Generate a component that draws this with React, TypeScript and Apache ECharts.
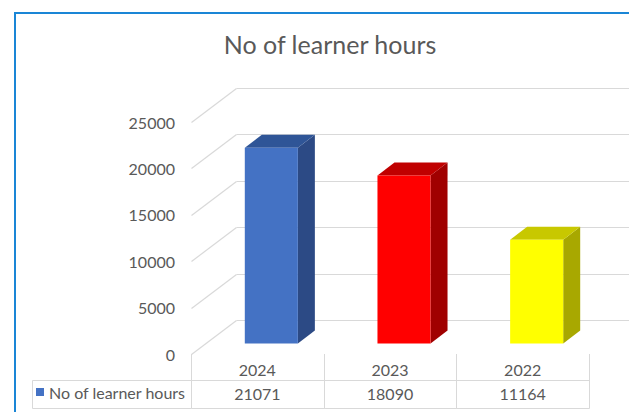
import React, { useEffect, useRef } from "react";
import * as echarts from "echarts";

const categories = ["2024", "2023", "2022"];
const seriesName = "No of learner hours";
const values = [21071, 18090, 11164];
const yTicks = [0, 5000, 10000, 15000, 20000, 25000];
const frontColors = ["#4472C4", "#FF0000", "#FFFF00"];
const topColors = ["#2F5597", "#C00000", "#C8C800"];
const sideColors = ["#2C4A85", "#A00000", "#A8A800"];

const FONT = "Lato";
const TXT = "#595959";
const GRIDC = "#D9D9D9";
const WALL_DX = 45;
const WALL_DY = -34;
const BAR_OX = 14;
const BAR_OY = -10.6;
const BAR_DX = 17;
const BAR_DY = -13;

export default function App() {
  const ref = useRef<HTMLDivElement>(null);
  useEffect(() => {
    const chart = echarts.init(ref.current!, undefined, { renderer: "svg" });
    const option: any = {
      animation: false,
      backgroundColor: "#FFFFFF",
      title: {
        text: "No of learner hours",
        left: 325,
        top: 26,
        textAlign: "center",
        textStyle: { fontFamily: FONT, fontSize: 25, fontWeight: "normal", color: TXT },
      },
      legend: {
        left: 36,
        top: 384,
        padding: 0,
        icon: "rect",
        itemWidth: 8,
        itemHeight: 8,
        data: [seriesName],
        textStyle: { fontFamily: FONT, fontSize: 16, color: TXT },
      },
      grid: { left: 191, right: 40, top: 122, bottom: 58 },
      xAxis: {
        type: "category",
        data: categories,
        axisLine: { show: false },
        axisTick: { show: false },
        splitLine: { show: false },
        axisLabel: { margin: 7, fontFamily: FONT, fontSize: 16, color: TXT },
      },
      yAxis: {
        type: "value",
        min: 0,
        max: 25000,
        interval: 5000,
        axisLine: { show: false },
        axisTick: { show: false },
        splitLine: { show: false },
        axisLabel: {
          margin: 16,
          fontFamily: FONT,
          fontSize: 16,
          color: TXT,
          formatter: (v: number) => String(v),
        },
      },
      graphic: [
        {
          type: "rect",
          shape: { x: 15, y: 13, width: 700, height: 500 },
          style: { fill: "none", stroke: "#1A86D6", lineWidth: 2 },
          z: 10,
        },
        {
          type: "line",
          shape: { x1: 32.5, y1: 380.5, x2: 191.5, y2: 380.5 },
          style: { stroke: GRIDC, lineWidth: 1 },
        },
        {
          type: "line",
          shape: { x1: 32.5, y1: 408.5, x2: 191.5, y2: 408.5 },
          style: { stroke: GRIDC, lineWidth: 1 },
        },
        {
          type: "line",
          shape: { x1: 32.5, y1: 380.5, x2: 32.5, y2: 408.5 },
          style: { stroke: GRIDC, lineWidth: 1 },
        },
      ],
      series: [
        {
          type: "custom",
          name: "walls",
          silent: true,
          clip: false,
          z: 1,
          data: yTicks.map((t) => [0, t]),
          renderItem: (params: any, api: any) => {
            const cs = params.coordSys;
            const p = api.coord([0, api.value(1)]);
            const y = Math.round(p[1]) + 0.5;
            const x0 = cs.x + 0.5;
            return {
              type: "group",
              children: [
                {
                  type: "line",
                  shape: { x1: x0, y1: y, x2: x0 + WALL_DX, y2: y + WALL_DY },
                  style: { stroke: GRIDC, lineWidth: 1.2 },
                },
                {
                  type: "line",
                  shape: { x1: x0 + WALL_DX, y1: y + WALL_DY, x2: cs.x + cs.width + 100, y2: y + WALL_DY },
                  style: { stroke: GRIDC, lineWidth: 1.2 },
                },
              ],
            };
          },
        },
        {
          type: "custom",
          name: seriesName,
          clip: false,
          z: 3,
          itemStyle: { color: frontColors[0] },
          encode: { x: 0, y: 1 },
          data: values.map((v, i) => [i, v]),
          renderItem: (params: any, api: any) => {
            const i = api.value(0);
            const top = api.coord([i, api.value(1)]);
            const base = api.coord([i, 0]);
            const band = api.size([1, 0])[0];
            const w = band * 0.4;
            const fx = top[0] + BAR_OX - w / 2;
            const ft = top[1] + BAR_OY;
            const fb = base[1] + BAR_OY;
            return {
              type: "group",
              children: [
                {
                  type: "polygon",
                  shape: { points: [[fx + w, ft], [fx + w + BAR_DX, ft + BAR_DY], [fx + w + BAR_DX, fb + BAR_DY], [fx + w, fb]] },
                  style: { fill: sideColors[i] },
                },
                {
                  type: "polygon",
                  shape: { points: [[fx, ft], [fx + BAR_DX, ft + BAR_DY], [fx + w + BAR_DX, ft + BAR_DY], [fx + w, ft]] },
                  style: { fill: topColors[i] },
                },
                {
                  type: "rect",
                  shape: { x: fx, y: ft, width: w, height: fb - ft },
                  style: { fill: frontColors[i] },
                },
              ],
            };
          },
        },
        {
          type: "custom",
          name: "table",
          silent: true,
          clip: false,
          z: 2,
          data: values.map((v, i) => [i, v]),
          renderItem: (params: any, api: any) => {
            const cs = params.coordSys;
            const i = api.value(0);
            const c = api.coord([i, 0]);
            const band = api.size([1, 0])[0];
            const l = Math.round(c[0] - band / 2) + 0.5;
            const r = Math.round(c[0] + band / 2) + 0.5;
            const y0 = cs.y + cs.height;
            const line = (x1: number, y1: number, x2: number, y2: number) => ({
              type: "line",
              shape: { x1, y1, x2, y2 },
              style: { stroke: GRIDC, lineWidth: 1 },
            });
            return {
              type: "group",
              children: [
                line(l, y0, l, y0 + 54.5),
                line(r, y0, r, y0 + 54.5),
                line(l, y0 + 26.5, r, y0 + 26.5),
                line(l, y0 + 54.5, r, y0 + 54.5),
                {
                  type: "text",
                  style: {
                    x: c[0],
                    y: y0 + 39.5,
                    text: String(api.value(1)),
                    align: "center",
                    verticalAlign: "middle",
                    fill: TXT,
                    fontFamily: FONT,
                    fontSize: 16,
                  },
                },
              ],
            };
          },
        },
      ],
    };
    chart.setOption(option);
    return () => chart.dispose();
  }, []);
  return (
    <div
      ref={ref}
      style={{ position: "absolute", left: 0, top: 0, width: 629, height: 412 }}
    />
  );
}
